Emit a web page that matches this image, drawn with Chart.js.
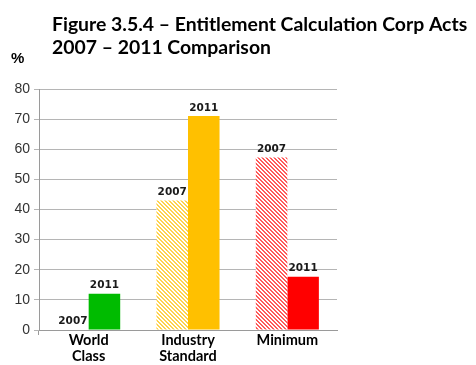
<!DOCTYPE html>
<html>
<head>
<meta charset="utf-8">
<script src="https://cdn.jsdelivr.net/npm/chart.js@4/dist/chart.umd.min.js"></script>
<style>
  html, body { margin: 0; padding: 0; background: #fff; }
  #wrap { position: relative; width: 476px; height: 365px; }
</style>
</head>
<body>
<div id="wrap"><canvas id="corpActs" width="476" height="365"></canvas></div>
<script>
// categories and the two survey years
const categories = [['World', 'Class'], ['Industry', 'Standard'], ['Minimum']];
const years = ['2007', '2011'];
const values2007 = [0, 43, 57.3];
const values2011 = [12, 71, 17.7];
const yTicks = [0, 10, 20, 30, 40, 50, 60, 70, 80];
const titleLines = ['Figure 3.5.4 \u2013 Entitlement Calculation Corp Acts', '2007 \u2013 2011 Comparison'];

// diagonal hatch fill used for the 2007 bars
function hatch(color) {
  const c = document.createElement('canvas');
  c.width = 4; c.height = 4;
  const g = c.getContext('2d');
  g.fillStyle = '#fff';
  g.fillRect(0, 0, 4, 4);
  g.fillStyle = color;
  for (let y = 0; y < 4; y++) {
    for (let x = 0; x < 4; x++) {
      const d = ((x - y) % 4 + 4) % 4;
      if (d === 0 || d === 1) g.fillRect(x, y, 1, 1);
    }
  }
  return g.createPattern(c, 'repeat');
}

const ctx = document.getElementById('corpActs').getContext('2d');

// year text above each bar, plus title and axis unit
const decorations = {
  id: 'decorations',
  afterDatasetsDraw(chart) {
    const c = chart.ctx;
    c.save();
    c.fillStyle = '#1a1a1a';
    c.font = 'bold 10.5px "DejaVu Sans"';
    c.textAlign = 'center';
    c.textBaseline = 'bottom';
    chart.data.datasets.forEach((ds, i) => {
      chart.getDatasetMeta(i).data.forEach(bar => {
        c.fillText(ds.label, bar.x, bar.y - 3);
      });
    });
    c.restore();
  },
  afterDraw(chart) {
    const c = chart.ctx;
    c.save();
    c.fillStyle = '#000';
    c.textAlign = 'left';
    c.textBaseline = 'alphabetic';
    c.font = 'bold 19.4px Lato';
    c.fillText(titleLines[0], 52, 31);
    c.fillText(titleLines[1], 52, 54);
    c.font = 'bold 15px "Liberation Sans"';
    c.fillText('%', 11, 63);
    c.restore();
  }
};

new Chart(ctx, {
  type: 'bar',
  data: {
    labels: categories,
    datasets: [
      {
        label: years[0],
        data: values2007,
        backgroundColor: ['rgba(0,0,0,0)', hatch('#FFD34D'), hatch('#FF5A5A')],
        categoryPercentage: 0.635,
        barPercentage: 1
      },
      {
        label: years[1],
        data: values2011,
        backgroundColor: ['#00BB00', '#FFC000', '#FF0000'],
        categoryPercentage: 0.635,
        barPercentage: 1
      }
    ]
  },
  options: {
    responsive: false,
    animation: false,
    layout: { padding: { left: 0, top: 89, right: 139, bottom: 0 } },
    plugins: {
      legend: { display: false },
      tooltip: { enabled: false }
    },
    scales: {
      y: {
        min: 0,
        max: 80,
        afterFit(scale) { scale.width = 39; },
        afterBuildTicks(scale) { scale.ticks = yTicks.map(v => ({ value: v })); },
        ticks: {
          color: '#333',
          padding: 4,
          font: { family: 'Liberation Sans', size: 14 }
        },
        grid: { color: '#b5b5b5', lineWidth: 1, tickLength: 5 },
        border: { color: '#9a9a9a' }
      },
      x: {
        afterFit(scale) { scale.height = 35; },
        ticks: {
          color: '#000',
          padding: -3,
          font: { family: 'Lato', size: 14.5, weight: 'bold', lineHeight: 1.1 }
        },
        grid: {
          drawOnChartArea: false,
          tickLength: 5,
          color: c => (c.index === 0 || c.index === categories.length) ? '#9a9a9a' : 'rgba(0,0,0,0)'
        },
        border: { color: '#9a9a9a' }
      }
    }
  },
  plugins: [decorations]
});
</script>
</body>
</html>
